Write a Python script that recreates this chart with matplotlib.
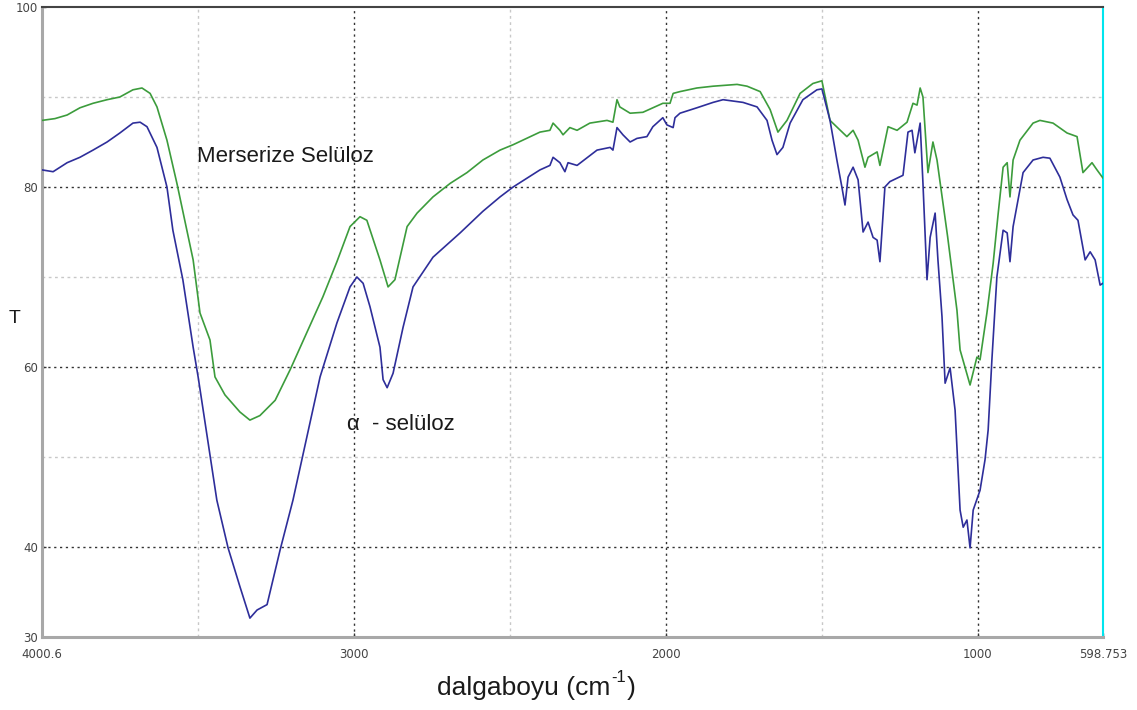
import matplotlib
matplotlib.use("Agg")
import matplotlib.pyplot as plt

# ---- data: Merserize Selüloz (green, upper) ----
green_wn = [4000.6, 3959, 3920, 3879, 3837, 3792, 3751, 3709, 3680, 3654, 3632, 3600,
            3568, 3516, 3494, 3462, 3446, 3414, 3366, 3334, 3302, 3253, 3205, 3100,
            3055, 3013, 2981, 2959, 2917, 2891, 2869, 2830, 2798, 2747, 2692, 2638,
            2587, 2532, 2490, 2404, 2372, 2362, 2340, 2330, 2308, 2285, 2244, 2189,
            2170, 2157, 2148, 2115, 2074, 2042, 2010, 1987, 1977, 1955, 1901, 1849,
            1772, 1740, 1698, 1666, 1641, 1612, 1570, 1529, 1500, 1474, 1420, 1400,
            1384, 1362, 1352, 1323, 1314, 1288, 1259, 1227, 1208, 1195, 1185, 1176,
            1160, 1144, 1131, 1097, 1067, 1057, 1025, 1003, 993, 971, 951, 935, 919,
            906, 897, 887, 865, 823, 801, 759, 714, 682, 663, 634, 618, 599]
green_T = [87.4, 87.6, 88.0, 88.8, 89.3, 89.7, 90.0, 90.8, 91.0, 90.4, 88.9, 85.2,
           80.4, 71.9, 66.0, 63.0, 58.9, 56.9, 55.0, 54.1, 54.6, 56.3, 59.7, 67.8,
           71.7, 75.6, 76.7, 76.3, 71.9, 68.9, 69.7, 75.6, 77.1, 78.9, 80.4, 81.6,
           83.0, 84.1, 84.7, 86.1, 86.3, 87.1, 86.3, 85.8, 86.6, 86.3, 87.1, 87.4,
           87.2, 89.7, 88.9, 88.2, 88.3, 88.8, 89.3, 89.3, 90.4, 90.6, 91.0, 91.2,
           91.4, 91.2, 90.6, 88.6, 86.1, 87.4, 90.4, 91.5, 91.8, 87.4, 85.6, 86.3,
           85.2, 82.2, 83.3, 83.9, 82.4, 86.7, 86.3, 87.2, 89.3, 89.1, 91.0, 90.0,
           81.6, 85.0, 83.0, 74.5, 66.3, 61.9, 58.0, 61.1, 60.8, 66.0, 71.5, 77.0, 82.2,
           82.7, 78.9, 83.0, 85.2, 87.1, 87.4, 87.1, 86.0, 85.6, 81.6, 82.7, 81.9, 81.0]

# ---- data: alpha-selüloz (blue, lower) ----
blue_wn = [4000.6, 3965, 3920, 3879, 3837, 3792, 3751, 3709, 3686, 3664, 3632, 3600,
           3581, 3549, 3516, 3500, 3440, 3404, 3366, 3334, 3311, 3279, 3237, 3196,
           3109, 3055, 3013, 2991, 2971, 2949, 2917, 2907, 2894, 2875, 2843, 2811,
           2747, 2660, 2587, 2532, 2490, 2404, 2372, 2362, 2340, 2324, 2314, 2285,
           2221, 2179, 2170, 2157, 2138, 2115, 2093, 2061, 2042, 2010, 1997, 1977,
           1971, 1955, 1901, 1849, 1817, 1753, 1708, 1676, 1660, 1644, 1625, 1602,
           1561, 1516, 1500, 1474, 1452, 1436, 1426, 1416, 1400, 1384, 1368, 1352,
           1336, 1323, 1314, 1298, 1282, 1240, 1224, 1211, 1202, 1185, 1176, 1163,
           1153, 1137, 1128, 1115, 1105, 1089, 1073, 1057, 1047, 1035, 1025, 1015,
           993, 977, 967, 955, 939, 919, 906, 897, 887, 855, 823, 791, 769, 737,
           714, 695, 679, 656, 640, 624, 608, 599]
blue_T = [81.9, 81.7, 82.7, 83.3, 84.1, 85.0, 86.0, 87.1, 87.2, 86.7, 84.4, 80.0,
          75.2, 69.7, 62.2, 58.9, 45.2, 39.9, 35.6, 32.1, 33.0, 33.6, 39.7, 45.2,
          58.9, 64.9, 68.9, 70.0, 69.3, 66.7, 62.2, 58.6, 57.7, 59.3, 64.4, 68.9,
          72.2, 74.9, 77.3, 78.9, 80.0, 81.9, 82.4, 83.3, 82.7, 81.7, 82.7, 82.4,
          84.1, 84.4, 84.1, 86.6, 85.8, 85.0, 85.4, 85.6, 86.7, 87.7, 86.9, 86.6,
          87.7, 88.2, 88.8, 89.4, 89.7, 89.4, 88.9, 87.4, 85.2, 83.6, 84.4, 87.1,
          89.7, 90.8, 90.9, 87.4, 83.0, 80.0, 78.0, 81.1, 82.2, 80.8, 75.0, 76.1,
          74.4, 74.1, 71.7, 80.0, 80.6, 81.3, 86.1, 86.3, 83.8, 87.1, 80.4, 69.7,
          74.4, 77.1, 71.9, 65.6, 58.2, 59.9, 55.2, 44.1, 42.2, 43.0, 39.9, 44.1,
          46.3, 49.7, 53.0, 60.8, 70.0, 75.2, 74.9, 71.7, 75.6, 81.6, 83.0, 83.3, 83.2, 81.1,
          78.6, 76.9, 76.3, 71.9, 72.8, 71.9, 69.1, 69.3]

x_ticks = [4000.6, 3000, 2000, 1000, 598.753]
x_ticklabels = ["4000.6", "3000", "2000", "1000", "598.753"]
y_ticks = [30, 40, 60, 80, 100]
y_ticklabels = ["30", "40", "60", "80", "100"]
x_major_grid = [3000, 2000, 1000]
x_minor_grid = [3500, 2500, 1500]
y_major_grid = [40, 60, 80]
y_minor_grid = [50, 70, 90]

plt.rcParams['font.family'] = ['Liberation Sans', 'DejaVu Sans']

fig = plt.figure(figsize=(11.37, 7.10), dpi=100)
ax = fig.add_axes([42/1137, 73/710, 1061/1137, 630/710])

for v in x_minor_grid:
    ax.axvline(v, color='#c8c8c8', lw=1.0, ls=(0, (2, 2.5)), zorder=1)
for v in y_minor_grid:
    ax.axhline(v, color='#c8c8c8', lw=1.0, ls=(0, (2, 2.5)), zorder=1)
for v in x_major_grid:
    ax.axvline(v, color='#333333', lw=1.0, ls=(0, (1.6, 2.6)), zorder=1)
for v in y_major_grid:
    ax.axhline(v, color='#333333', lw=1.0, ls=(0, (1.6, 2.6)), zorder=1)

ax.plot(green_wn, green_T, color='#3c9c3c', lw=1.2, zorder=3)
ax.plot(blue_wn, blue_T, color='#2e2e9a', lw=1.2, zorder=3)

ax.set_xlim(4000.6, 598.753)
ax.set_ylim(30, 100)

ax.set_xticks(x_ticks)
ax.set_xticklabels(x_ticklabels)
ax.set_yticks(y_ticks)
ax.set_yticklabels(y_ticklabels)
ax.tick_params(axis='both', labelsize=8.5, colors='#333333', length=3, width=1,
               direction='in', pad=3)
ax.tick_params(axis='x', pad=8)
for lab in ax.get_xticklabels() + ax.get_yticklabels():
    lab.set_family('DejaVu Sans')
    lab.set_color('#444444')

ax.spines['left'].set_color('#a8a8a8')
ax.spines['left'].set_linewidth(2.2)
ax.spines['bottom'].set_color('#a8a8a8')
ax.spines['bottom'].set_linewidth(2.2)
ax.spines['top'].set_color('#444444')
ax.spines['top'].set_linewidth(1.5)
ax.spines['right'].set_color('#00e5ee')
ax.spines['right'].set_linewidth(1.5)

ax.text(3504, 83.4, "Merserize Selüloz", fontsize=16, color='#1a1a1a',
        ha='left', va='center')
ax.text(3023, 53.6, "α  - selüloz", fontsize=16, color='#1a1a1a',
        ha='left', va='center')

fig.text(15/1137, 1 - 318/710, "T", fontsize=14, color='#1a1a1a', ha='center', va='center')
fig.text(610/1137, 1 - 688/710, "dalgaboyu (cm", fontsize=19,
         color='#1a1a1a', ha='right', va='center')
fig.text(611/1137, 1 - 677/710, "-1", fontsize=12,
         color='#1a1a1a', ha='left', va='center')
fig.text(627/1137, 1 - 688/710, ")", fontsize=19,
         color='#1a1a1a', ha='left', va='center')

fig.savefig("out.png", dpi=100)
